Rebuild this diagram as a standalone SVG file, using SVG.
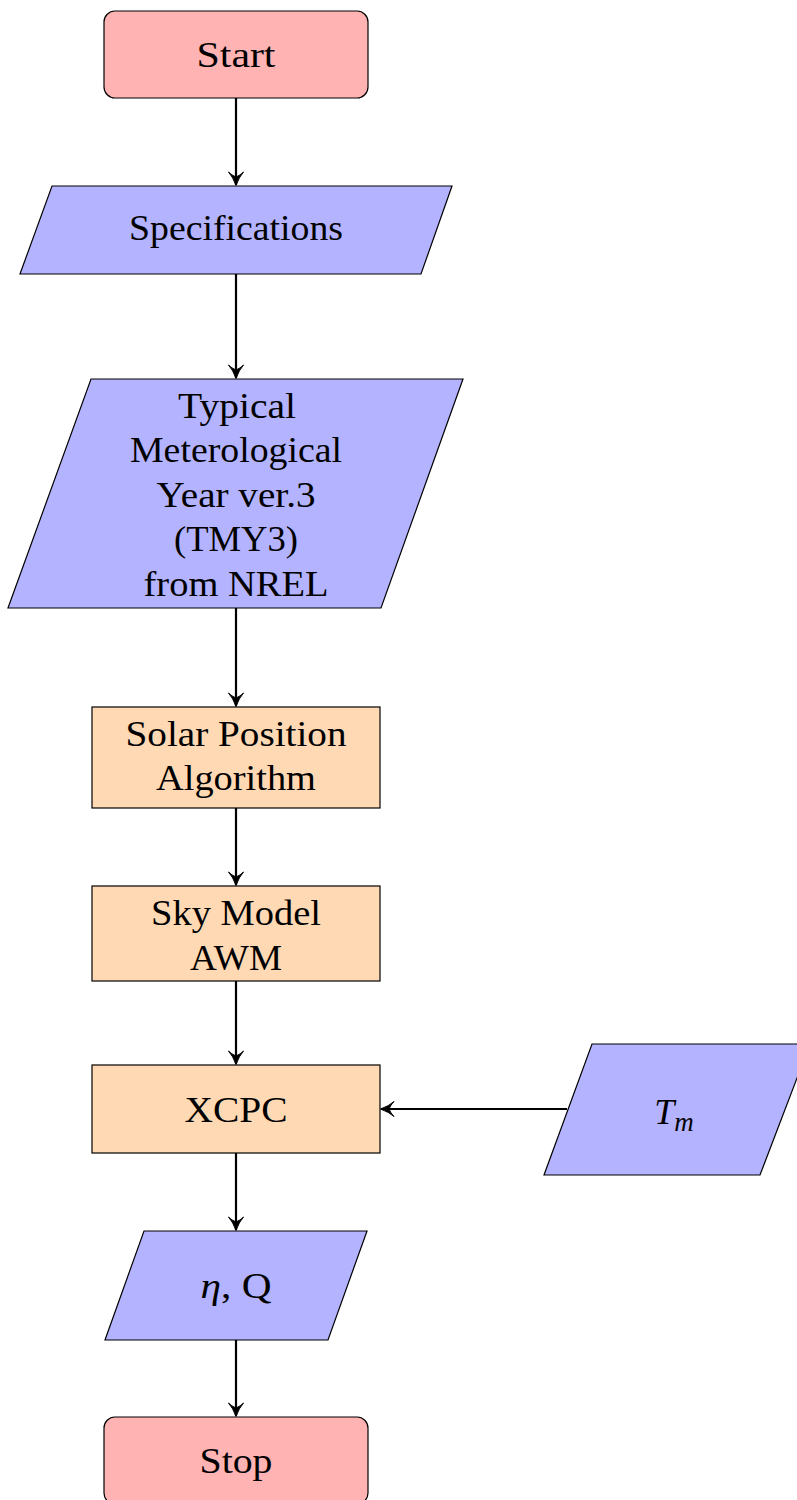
<svg xmlns="http://www.w3.org/2000/svg" width="797" height="1500" viewBox="0 0 797 1500">
  <style>
    .term { fill: #FFB3B3; stroke: #000; stroke-width: 1.2; }
    .io { fill: #B3B3FF; stroke: #000; stroke-width: 1.2; }
    .proc { fill: #FFD9B3; stroke: #000; stroke-width: 1.2; }
    .lbl { font-family: "Liberation Serif", "DejaVu Serif", serif; font-size: 36px; fill: #000; text-anchor: middle; }
    .edge { fill: none; stroke: #000; stroke-width: 2.2; marker-end: url(#head); }
  </style>
  <defs>
    <marker id="head" markerUnits="userSpaceOnUse" markerWidth="18" markerHeight="18" viewBox="-15 -9 18 18" refX="0" refY="0" orient="auto">
      <path d="M0.5,0 Q-8,-3 -13,-7.5 Q-8.5,-2.5 -8.5,0 Q-8.5,2.5 -13,7.5 Q-8,3 0.5,0 Z" fill="#000" stroke="#000" stroke-width="1"/>
    </marker>
  </defs>

  <g id="connectors">
    <path class="edge" d="M236,98 V185"/>
    <path class="edge" d="M236,274 V378"/>
    <path class="edge" d="M236,608 V706"/>
    <path class="edge" d="M236,808 V885"/>
    <path class="edge" d="M236,981 V1064"/>
    <path class="edge" d="M236,1153 V1230"/>
    <path class="edge" d="M236,1340 V1416"/>
    <path class="edge" d="M567,1109 H381"/>
  </g>

  <g id="start">
    <rect class="term" x="104" y="11" width="264" height="87" rx="11"/>
    <text class="lbl" x="236" y="67" textLength="79" lengthAdjust="spacingAndGlyphs">Start</text>
  </g>

  <g id="specifications">
    <polygon class="io" points="52,186 452,186 421,274 20,274"/>
    <text class="lbl" x="236" y="240" textLength="214" lengthAdjust="spacingAndGlyphs">Specifications</text>
  </g>

  <g id="tmy3">
    <polygon class="io" points="91,379 463,379 381,608 8,608"/>
    <text class="lbl" x="237" y="418" textLength="118" lengthAdjust="spacingAndGlyphs">Typical</text>
    <text class="lbl" x="236" y="462" textLength="212" lengthAdjust="spacingAndGlyphs">Meterological</text>
    <text class="lbl" x="236" y="507" textLength="159" lengthAdjust="spacingAndGlyphs">Year ver.3</text>
    <text class="lbl" x="236" y="551" textLength="124" lengthAdjust="spacingAndGlyphs">(TMY3)</text>
    <text class="lbl" x="236" y="596" textLength="185" lengthAdjust="spacingAndGlyphs">from NREL</text>
  </g>

  <g id="solar-position">
    <rect class="proc" x="92" y="707" width="288" height="101"/>
    <text class="lbl" x="236" y="746" textLength="221" lengthAdjust="spacingAndGlyphs">Solar Position</text>
    <text class="lbl" x="236" y="790" textLength="160" lengthAdjust="spacingAndGlyphs">Algorithm</text>
  </g>

  <g id="sky-model">
    <rect class="proc" x="92" y="886" width="288" height="95"/>
    <text class="lbl" x="236" y="925" textLength="170" lengthAdjust="spacingAndGlyphs">Sky Model</text>
    <text class="lbl" x="236" y="970" textLength="92" lengthAdjust="spacingAndGlyphs">AWM</text>
  </g>

  <g id="xcpc">
    <rect class="proc" x="92" y="1065" width="288" height="88"/>
    <text class="lbl" x="236" y="1122" textLength="103" lengthAdjust="spacingAndGlyphs">XCPC</text>
  </g>

  <g id="tm">
    <polygon class="io" points="592,1044 810,1044 760,1175 544,1175"/>
    <text class="lbl" x="674" y="1124" font-size="39px"><tspan font-style="italic">T</tspan><tspan font-style="italic" font-size="27px" dy="7">m</tspan></text>
  </g>

  <g id="eta-q">
    <polygon class="io" points="144,1231 367,1231 328,1340 105,1340"/>
    <text class="lbl" x="236" y="1298" textLength="71" lengthAdjust="spacingAndGlyphs"><tspan font-style="italic">η</tspan>, Q</text>
  </g>

  <g id="stop">
    <rect class="term" x="104" y="1417" width="264" height="87" rx="11"/>
    <text class="lbl" x="236" y="1473" textLength="73" lengthAdjust="spacingAndGlyphs">Stop</text>
  </g>
</svg>
